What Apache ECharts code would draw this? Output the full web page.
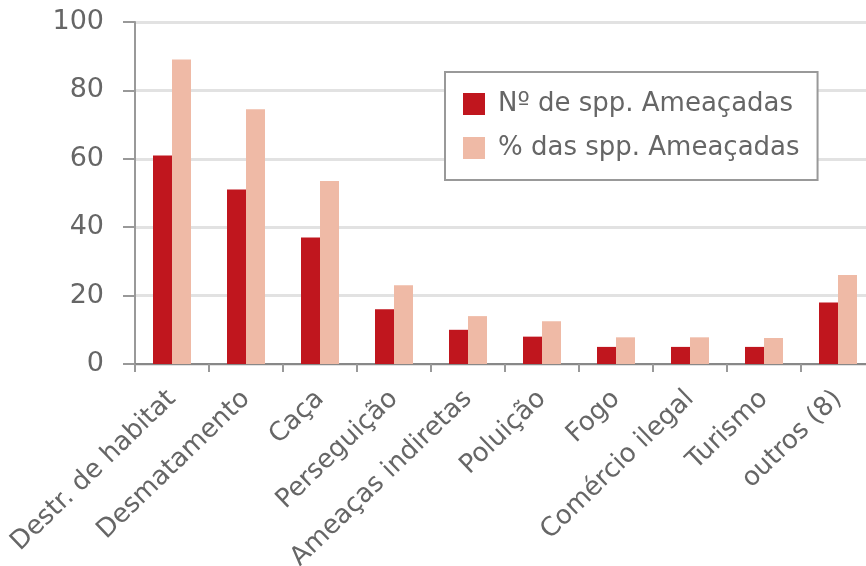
<!DOCTYPE html>
<html>
<head>
<meta charset="utf-8">
<script src="https://cdn.jsdelivr.net/npm/echarts@6/dist/echarts.min.js"></script>
<style>
html,body{margin:0;padding:0;background:#fff;}
#c{width:866px;height:566px;}
</style>
</head>
<body>
<div id="c"></div>
<script>
const categories = ['Destr. de habitat','Desmatamento','Caça','Perseguição','Ameaças indiretas','Poluição','Fogo','Comércio ilegal','Turismo','outros (8)'];
const seriesNames = ['Nº de spp. Ameaçadas','% das spp. Ameaçadas'];
const numThreatened = [61, 51, 37, 16, 10, 8, 5, 5, 5, 18];
const pctThreatened = [89, 74.5, 53.5, 23, 14, 12.5, 7.8, 7.8, 7.6, 26];
const yTicks = [0, 20, 40, 60, 80, 100];

const font = 'DejaVu Sans';
const chart = echarts.init(document.getElementById('c'), null, {renderer:'canvas'});
chart.setOption({
  animation: false,
  backgroundColor: '#fff',
  grid: {left: 135, right: -9, top: 22, bottom: 202, containLabel: false, outerBoundsMode: 'none'},
  legend: {
    orient: 'vertical',
    left: 445, top: 72,
    padding: [19, 18, 19, 18],
    itemWidth: 22, itemHeight: 22, itemGap: 18,
    icon: 'rect',
    borderColor: '#999', borderWidth: 2,
    backgroundColor: '#fff',
    textStyle: {fontFamily: font, fontSize: 26, lineHeight: 22, color: '#666', padding: [0,0,0,8]},
    data: seriesNames
  },
  xAxis: {
    type: 'category',
    data: categories,
    axisLine: {lineStyle: {color: '#888', width: 2}},
    axisTick: {show: true, length: 8, lineStyle: {color: '#999', width: 2}},
    axisLabel: {rotate: 44, margin: 31, interval: 0, fontFamily: font, fontSize: 26, color: '#666'}
  },
  yAxis: {
    type: 'value',
    min: yTicks[0], max: yTicks[yTicks.length-1], interval: 20,
    axisLine: {show: true, lineStyle: {color: '#999', width: 2}},
    axisTick: {show: true, length: 12, lineStyle: {color: '#999', width: 2}},
    axisLabel: {margin: 31, fontFamily: font, fontSize: 27, color: '#666'},
    splitLine: {lineStyle: {color: '#e2e2e2', width: 3}}
  },
  series: [
    {name: seriesNames[0], type: 'bar', data: numThreatened, barWidth: 19, barGap: '0%',
     itemStyle: {color: '#c0161e'}},
    {name: seriesNames[1], type: 'bar', data: pctThreatened, barWidth: 19, barGap: '0%',
     itemStyle: {color: '#efbaa6'}}
  ]
});
</script>
</body>
</html>
